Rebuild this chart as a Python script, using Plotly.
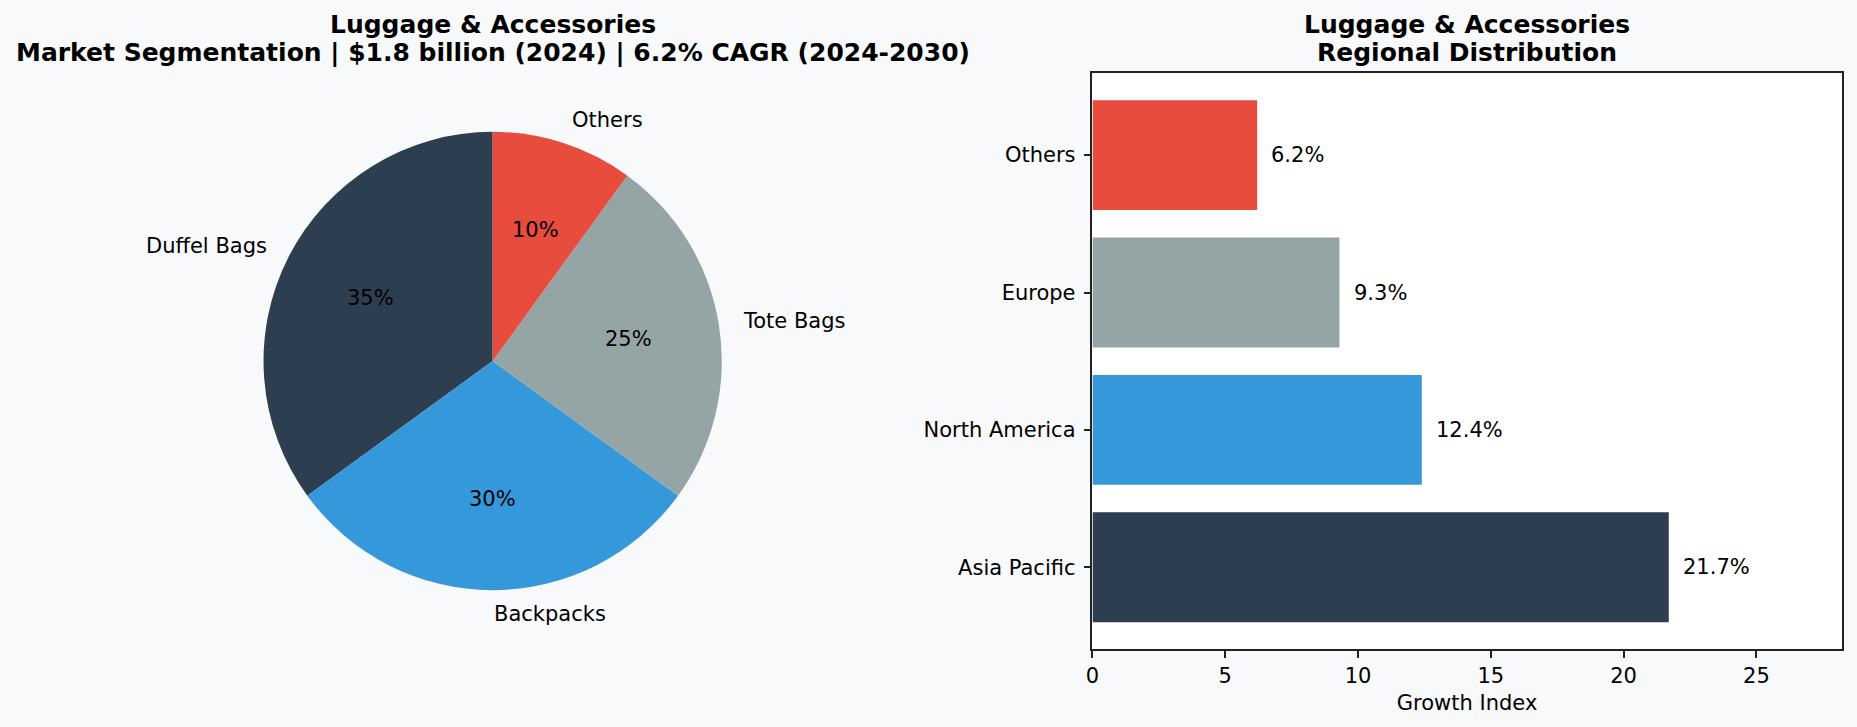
import math
import plotly.graph_objects as go

W, H = 1857, 727

# ---- data ----
seg_labels = ["Duffel Bags", "Backpacks", "Tote Bags", "Others"]
seg_values = [35, 30, 25, 10]
seg_colors = ["#2c3e50", "#3498db", "#95a5a6", "#e74c3c"]

regions = ["Asia Pacific", "North America", "Europe", "Others"]
growth = [21.7, 12.4, 9.3, 6.2]
reg_colors = ["#2c3e50", "#3498db", "#95a5a6", "#e74c3c"]

pie_title = ["Luggage & Accessories",
             "Market Segmentation | $1.8 billion (2024) | 6.2% CAGR (2024-2030)"]
bar_title = ["Luggage & Accessories", "Regional Distribution"]
x_ticks = [0, 5, 10, 15, 20, 25]

FONT = "DejaVu Sans"
BG = "#f8f9fa"
LBL = 21

# ---- geometry (pixels) ----
cx, cy, R = 487.5, 361.0, 230.0
bx0, bx1, by0, by1 = 1089.6, 1841.6, 73.4, 649.0

def px(x):
    return x / W

def py(y):
    return 1 - y / H

total = sum(seg_values)

fig = go.Figure()

# plotly's counterclockwise pie ends its first slice at `rotation`; shift so it starts at 12 o'clock
fig.add_trace(go.Pie(
    labels=seg_labels, values=seg_values, sort=False,
    direction="counterclockwise", rotation=-360.0 * seg_values[0] / total,
    marker=dict(colors=seg_colors, line=dict(width=0)),
    textinfo="none", hoverinfo="label+percent", showlegend=False,
    domain=dict(x=[px(cx - R), px(cx + R)], y=[py(cy + R), py(cy - R)]),
))

xmax = max(growth) * 1.3
fig.add_trace(go.Bar(
    y=regions, x=growth, orientation="h", width=0.8,
    marker=dict(color=reg_colors, line=dict(width=0)),
    showlegend=False, xaxis="x", yaxis="y",
))

annotations = []
# pie labels and percentages computed from the data
start = 90.0
for lab, v in zip(seg_labels, seg_values):
    span = 360.0 * v / total
    mid = math.radians(start + span / 2)
    start += span
    lx = cx + 1.1 * R * math.cos(mid)
    ly = cy - 1.1 * R * math.sin(mid)
    annotations.append(dict(
        x=px(lx), y=py(ly), xref="paper", yref="paper", text=lab,
        showarrow=False, xanchor="left" if math.cos(mid) > -1e-9 else "right",
        yanchor="middle", borderpad=0,
        font=dict(family=FONT, size=LBL, color="black")))
    tx = cx + 0.6 * R * math.cos(mid)
    ty = cy - 0.6 * R * math.sin(mid)
    annotations.append(dict(
        x=px(tx), y=py(ty), xref="paper", yref="paper", text=f"{v / total * 100:.0f}%",
        showarrow=False, xanchor="center", yanchor="middle",
        font=dict(family=FONT, size=LBL, color="black")))

# bar value labels
for r, g in zip(regions, growth):
    annotations.append(dict(
        x=g + 0.5, y=r, xref="x", yref="y", text=f"{g}%", showarrow=False,
        xanchor="left", yanchor="middle", borderpad=0,
        font=dict(family=FONT, size=LBL, color="black")))

# titles
for i, t in enumerate(pie_title):
    annotations.append(dict(
        x=px(cx), y=py(25 + 28 * i), xref="paper", yref="paper", text=f"<b>{t}</b>",
        showarrow=False, xanchor="center", yanchor="middle",
        font=dict(family=FONT, size=25, color="black")))
for i, t in enumerate(bar_title):
    annotations.append(dict(
        x=px((bx0 + bx1) / 2), y=py(25 + 28 * i), xref="paper", yref="paper",
        text=f"<b>{t}</b>", showarrow=False, xanchor="center", yanchor="middle",
        font=dict(family=FONT, size=25, color="black")))

fig.update_layout(
    width=W, height=H, margin=dict(l=0, r=0, t=0, b=0, pad=0),
    paper_bgcolor=BG, plot_bgcolor="white",
    font=dict(family=FONT, size=LBL, color="black"),
    xaxis=dict(domain=[px(bx0), px(bx1)], range=[0, xmax], tickvals=x_ticks,
               ticks="outside", ticklen=7, tickwidth=1.5, tickcolor="#222",
               showline=True, linecolor="#222", linewidth=1.5, mirror=True,
               showgrid=False, zeroline=False, anchor="y",
               tickfont=dict(family=FONT, size=LBL, color="black"),
               title=dict(text="Growth Index", standoff=8,
                          font=dict(family=FONT, size=LBL, color="black"))),
    yaxis=dict(domain=[py(by1), py(by0)], range=[-0.595, 3.595],
               type="category", categoryorder="array", categoryarray=regions,
               ticks="outside", ticklen=7, tickwidth=1.5, tickcolor="#222",
               ticklabelstandoff=4,
               showline=True, linecolor="#222", linewidth=1.5, mirror=True,
               showgrid=False, zeroline=False, anchor="x",
               tickfont=dict(family=FONT, size=LBL, color="black")),
    annotations=annotations,
)

fig.write_html("out.html")
